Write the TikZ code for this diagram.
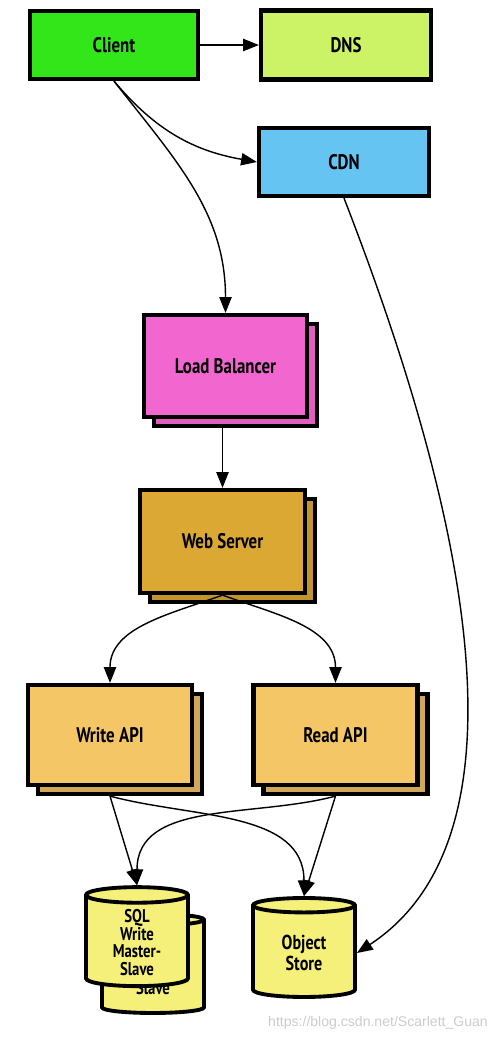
\documentclass[tikz,border=0pt]{standalone}
\usepackage{fontspec}
\setmainfont{PT Sans}[FakeStretch=0.8]
\newfontfamily\markfont{Liberation Sans}
\usetikzlibrary{
  positioning,
  calc,
  arrows.meta,
  shapes.geometric
}
\definecolor{clientgreen}{HTML}{33E619}
\definecolor{dnslime}{HTML}{CCF266}
\definecolor{cdnblue}{HTML}{66C4F2}
\definecolor{lbpink}{HTML}{F266CF}
\definecolor{webgold}{HTML}{DBA833}
\definecolor{apitan}{HTML}{F5C666}
\definecolor{storeyellow}{HTML}{F5F07A}

\begin{document}
\begin{tikzpicture}[
      x=0.02cm, y=0.02cm,
      box/.style={rectangle, draw, line width=2.4pt, minimum width=3.36cm, minimum height=1.36cm, align=center, font=\bfseries\fontsize{12}{14}\selectfont},
      stack/.style={box, minimum width=3.28cm, minimum height=2.04cm},
      store/.style={cylinder, shape border rotate=90, aspect=0.3, draw, line width=2.2pt, fill=storeyellow, minimum width=2.04cm, minimum height=1.98cm, align=center, inner sep=1pt, font=\bfseries\fontsize{10.5}{10.2}\selectfont},
      arrow/.style={-{Triangle[length=9pt, width=7pt]}, line width=0.8pt}
    ]
      \useasboundingbox (0,0) rectangle (500,-1039);

      % Top row
      \node[box, fill=clientgreen] (client) at (114,-45) {Client};
      \node[box, fill=dnslime, minimum width=3.4cm, minimum height=1.38cm] (dns) at (346,-45) {DNS};
      \node[box, fill=cdnblue, minimum width=3.4cm] (cdn) at (344,-162) {CDN};

      % Stacked boxes (back copy first)
      \node[stack, fill=lbpink!92!black, minimum width=3.26cm] (lbback) at (235.5,-375) {};
      \node[stack, fill=lbpink, minimum width=3.26cm] (lb) at (225.5,-366) {Load Balancer};
      \node[stack, fill=webgold!88!black, minimum width=3.3cm, minimum height=2.06cm] (webback) at (232.5,-550.5) {};
      \node[stack, fill=webgold, minimum width=3.3cm, minimum height=2.06cm] (web) at (222.5,-541.5) {Web Server};
      \node[stack, fill=apitan!85!black, minimum height=2cm] (writeback) at (120,-744) {};
      \node[stack, fill=apitan, minimum height=2cm] (write) at (110,-735) {Write API};
      \node[stack, fill=apitan!85!black, minimum height=2cm] (readback) at (345.5,-744) {};
      \node[stack, fill=apitan, minimum height=2cm] (read) at (335.5,-735) {Read API};

      % Stores
      \node[store] (sqlback) at (153,-968) {\mbox{}\\\mbox{}\\\mbox{}\\Slave};
      \node[store] (sql) at (137,-942.5) {SQL\\Write\\Master-\\Slave};
      \node[store, font=\bfseries\fontsize{11.5}{11.5}\selectfont] (objstore) at (304,-953) {Object\\Store};

      % Arrows
      \draw[arrow] (client) -- (dns);
      \draw[arrow] (client.south) to[out=-50, in=170] (cdn.west);
      \draw[arrow] (client.south) to[out=-52, in=90] (lb.north);
      \draw[arrow] (cdn.south) .. controls (430,-420) and (560,-820) .. (objstore.east);
      \draw[arrow] (web.north |- lbback.south) -- (web.north);
      \draw[arrow] (web.south) to[out=-160, in=90] (write.north);
      \draw[arrow] (web.south) to[out=-20, in=90] (read.north);
      \draw[arrow] (write.south |- writeback.south) -- (sql.north);
      \draw[arrow] (write.south |- writeback.south) to[out=-15, in=90] (objstore.north);
      \draw[arrow] (read.south |- readback.south) to[out=-165, in=90] (sql.north);
      \draw[arrow] (read.south |- readback.south) -- (objstore.north);

      % Watermark
      \node[font=\markfont\fontsize{8}{9}\selectfont, text=gray!40, anchor=east] (mark) at (494,-1023) {https://blog.csdn.net/Scarlett\_Guan};
    \end{tikzpicture}
\end{document}
